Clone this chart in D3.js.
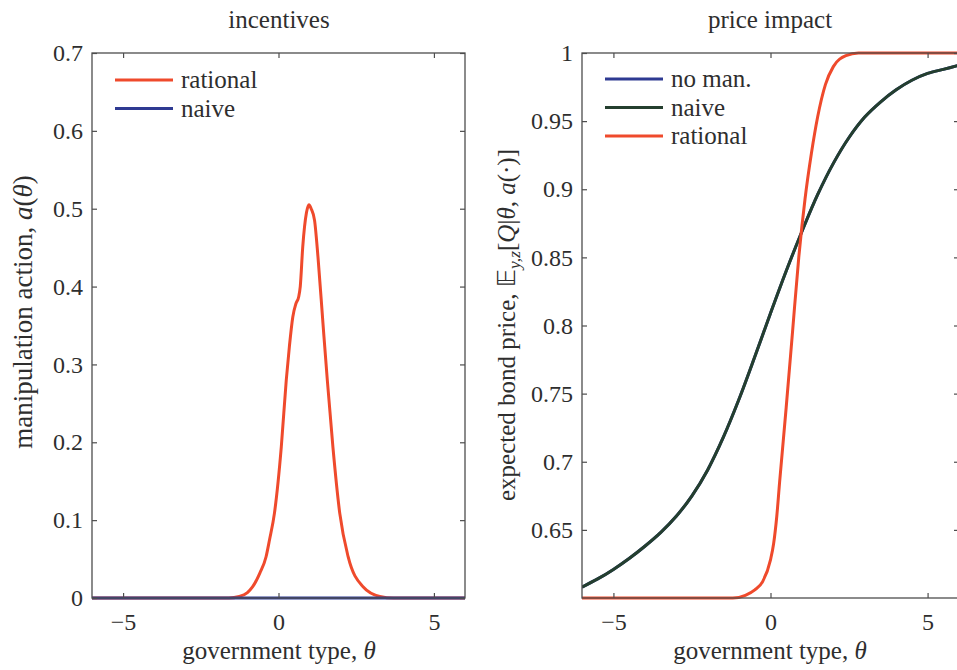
<!DOCTYPE html>
<html>
<head>
<meta charset="utf-8">
<script src="https://cdn.jsdelivr.net/npm/d3@7"></script>
<style>
  body { margin: 0; background: #ffffff; }
  svg { display: block; }
  svg text { fill: #2e2e2e; }
</style>
</head>
<body>
<svg id="chart" width="957" height="670"></svg>
<script>
// ---- data -------------------------------------------------------------
const thetaDomain = [-6, 6];
const xTickValues = [-5, 0, 5];
const xTickLabels = ["\u22125", "0", "5"];

const incYTickValues = [0, 0.1, 0.2, 0.3, 0.4, 0.5, 0.6, 0.7];
const incYTickLabels = ["0", "0.1", "0.2", "0.3", "0.4", "0.5", "0.6", "0.7"];

const priceYTickValues = [0.65, 0.7, 0.75, 0.8, 0.85, 0.9, 0.95, 1];
const priceYTickLabels = ["0.65", "0.7", "0.75", "0.8", "0.85", "0.9", "0.95", "1"];

// incentives: manipulation action a(theta)
const incRationalTheta = [-6, -1.6, -1.26, -1.0, -0.83, -0.6, -0.4, -0.29, -0.13, 0.09, 0.25, 0.35, 0.46, 0.56, 0.65, 0.7, 0.78, 0.9, 0.98, 1.05, 1.16, 1.27, 1.43, 1.57, 1.75, 1.97, 2.24, 2.72, 3.26, 3.7, 6];
const incRationalA     = [0, 0, 0.002, 0.007, 0.0145, 0.032, 0.053, 0.0745, 0.109, 0.194, 0.28, 0.323, 0.361, 0.378, 0.387, 0.40, 0.451, 0.495, 0.505, 0.50, 0.485, 0.438, 0.353, 0.28, 0.194, 0.109, 0.053, 0.0145, 0.002, 0, 0];
const incNaiveTheta = [-6, 6];
const incNaiveA     = [0, 0];

// price impact: expected bond price
const priceTheta = [-6, -5.5, -5, -4.5, -4, -3.5, -3, -2.5, -2, -1.5, -1, -0.5, 0, 0.5, 1, 1.5, 2, 2.5, 3, 3.5, 4, 4.5, 5, 5.5, 6];
const priceNoMan = [0.608, 0.614, 0.621, 0.629, 0.638, 0.648, 0.660, 0.675, 0.694, 0.718, 0.746, 0.777, 0.809, 0.840, 0.869, 0.896, 0.919, 0.938, 0.953, 0.964, 0.973, 0.980, 0.985, 0.988, 0.991];
const priceNaive = [0.608, 0.614, 0.621, 0.629, 0.638, 0.648, 0.660, 0.675, 0.694, 0.718, 0.746, 0.777, 0.809, 0.840, 0.869, 0.896, 0.919, 0.938, 0.953, 0.964, 0.973, 0.980, 0.985, 0.988, 0.991];
const priceRationalTheta = [-6, -1.2, -0.8, -0.5, -0.25, 0, 0.1, 0.2, 0.29, 0.5, 0.7, 0.9, 1.1, 1.3, 1.5, 1.75, 2.0, 2.4, 2.8, 6];
const priceRational      = [0.6, 0.6, 0.602, 0.606, 0.612, 0.628, 0.64, 0.66, 0.685, 0.74, 0.795, 0.85, 0.893, 0.926, 0.953, 0.977, 0.99, 0.998, 1.0, 1.0];

// ---- styling ----------------------------------------------------------
const RED = "#ef4a2c", BLUE = "#2e3a92", GREEN = "#243f2e", FRAME = "#4d4d4d";
const SERIF = "'Liberation Serif', 'DejaVu Serif', 'Noto Serif', Tinos, 'Times New Roman', Times, FreeSerif, 'Nimbus Roman', serif";
const FS_TICK = 24, FS_LABEL = 25;

const svg = d3.select("#chart").attr("font-family", SERIF);

function panel(cfg) {
  const x = d3.scaleLinear().domain(thetaDomain).range([cfg.left, cfg.right]);
  const y = d3.scaleLinear().domain(cfg.yDomain).range([cfg.bottom, cfg.top]);
  const g = svg.append("g");

  const clipId = "clip-" + cfg.id;
  svg.append("clipPath").attr("id", clipId).append("rect")
    .attr("x", cfg.left).attr("y", cfg.top - 2)
    .attr("width", cfg.right - cfg.left).attr("height", cfg.bottom - cfg.top + 4);

  // series
  const lines = g.append("g").attr("clip-path", `url(#${clipId})`);
  cfg.series.forEach(s => {
    const line = d3.line().x(d => x(d[0])).y(d => y(d[1])).curve(s.curve || d3.curveMonotoneX);
    lines.append("path")
      .datum(d3.zip(s.theta, s.values))
      .attr("d", line)
      .attr("fill", "none")
      .attr("stroke", s.color)
      .attr("stroke-width", 3)
      .attr("stroke-linejoin", "round");
  });

  // inward ticks on all four sides
  const styleAxis = sel => {
    sel.select(".domain").remove();
    sel.attr("font-family", SERIF).attr("font-size", FS_TICK);
    sel.selectAll(".tick line").attr("stroke", FRAME).attr("stroke-width", 1.2);
    sel.selectAll("text").attr("fill", "#2e2e2e");
  };
  g.append("g").attr("transform", `translate(0,${cfg.bottom})`)
    .call(d3.axisBottom(x).tickValues(xTickValues).tickSize(-5).tickPadding(15)
      .tickFormat((d, i) => xTickLabels[i]))
    .call(styleAxis);
  g.append("g").attr("transform", `translate(0,${cfg.top})`)
    .call(d3.axisTop(x).tickValues(xTickValues).tickSize(-5).tickFormat(""))
    .call(styleAxis);
  g.append("g").attr("transform", `translate(${cfg.left},0)`)
    .call(d3.axisLeft(y).tickValues(cfg.yTicks).tickSize(-5).tickPadding(9)
      .tickFormat((d, i) => cfg.yLabels[i]))
    .call(styleAxis);
  g.append("g").attr("transform", `translate(${cfg.right},0)`)
    .call(d3.axisRight(y).tickValues(cfg.yTicks).tickSize(-5).tickFormat(""))
    .call(styleAxis);

  // frame
  g.append("rect")
    .attr("x", cfg.left).attr("y", cfg.top)
    .attr("width", cfg.right - cfg.left).attr("height", cfg.bottom - cfg.top)
    .attr("fill", "none").attr("stroke", FRAME).attr("stroke-width", 1.3);

  // title and x label
  g.append("text").attr("x", cfg.titleX).attr("y", 28).attr("text-anchor", "middle")
    .attr("font-size", FS_LABEL).text(cfg.title);
  const xl = g.append("text").attr("x", cfg.titleX).attr("y", 659).attr("text-anchor", "middle")
    .attr("font-size", FS_LABEL);
  xl.append("tspan").text("government type, ");
  xl.append("tspan").attr("font-style", "italic").text("\u03b8");

  // legend
  cfg.legend.forEach((s, i) => {
    const ly = cfg.legendY + i * 28.5;
    g.append("line").attr("x1", cfg.legendX).attr("x2", cfg.legendX + 58)
      .attr("y1", ly).attr("y2", ly).attr("stroke", s.color).attr("stroke-width", 3);
    g.append("text").attr("x", cfg.legendX + 66).attr("y", ly).attr("dy", "0.32em")
      .attr("font-size", FS_LABEL).text(s.name);
  });

  return { x, y, g };
}

// ---- left panel: incentives -------------------------------------------
const left = panel({
  id: "inc", left: 92, right: 465, top: 53, bottom: 598,
  yDomain: [0, 0.7], yTicks: incYTickValues, yLabels: incYTickLabels,
  title: "incentives", titleX: 279,
  series: [
    { theta: incRationalTheta, values: incRationalA, color: RED },
    { theta: incNaiveTheta, values: incNaiveA, color: BLUE }
  ],
  legend: [ { name: "rational", color: RED }, { name: "naive", color: BLUE } ],
  legendX: 115, legendY: 80
});
const yl1 = left.g.append("text")
  .attr("transform", "translate(32,312) rotate(-90)")
  .attr("text-anchor", "middle").attr("font-size", 27);
yl1.append("tspan").text("manipulation action, ");
yl1.append("tspan").attr("font-style", "italic").text("a");
yl1.append("tspan").text("(");
yl1.append("tspan").attr("font-style", "italic").text("\u03b8");
yl1.append("tspan").text(")");

// ---- right panel: price impact ----------------------------------------
const right = panel({
  id: "price", left: 582, right: 959, top: 53, bottom: 598,
  yDomain: [0.6, 1], yTicks: priceYTickValues, yLabels: priceYTickLabels,
  title: "price impact", titleX: 770,
  series: [
    { theta: priceTheta, values: priceNoMan, color: BLUE, curve: d3.curveCatmullRom.alpha(0.5) },
    { theta: priceTheta, values: priceNaive, color: GREEN, curve: d3.curveCatmullRom.alpha(0.5) },
    { theta: priceRationalTheta, values: priceRational, color: RED }
  ],
  legend: [ { name: "no man.", color: BLUE }, { name: "naive", color: GREEN }, { name: "rational", color: RED } ],
  legendX: 605, legendY: 79
});
const yl2 = right.g.append("text")
  .attr("transform", "translate(515,325) rotate(-90)")
  .attr("text-anchor", "middle").attr("font-size", FS_LABEL);
yl2.append("tspan").text("expected bond price, ");
yl2.append("tspan").attr("font-family", "'DejaVu Sans', sans-serif").text("\ud835\udd3c");
yl2.append("tspan").attr("font-style", "italic").attr("font-size", FS_LABEL * 0.7).attr("dy", 5).text("y,z");
yl2.append("tspan").attr("dy", -5).text("[");
yl2.append("tspan").attr("font-style", "italic").text("Q");
yl2.append("tspan").text("|");
yl2.append("tspan").attr("font-style", "italic").text("\u03b8");
yl2.append("tspan").text(", ");
yl2.append("tspan").attr("font-style", "italic").text("a");
yl2.append("tspan").text("(\u00b7)]");
</script>
</body>
</html>
